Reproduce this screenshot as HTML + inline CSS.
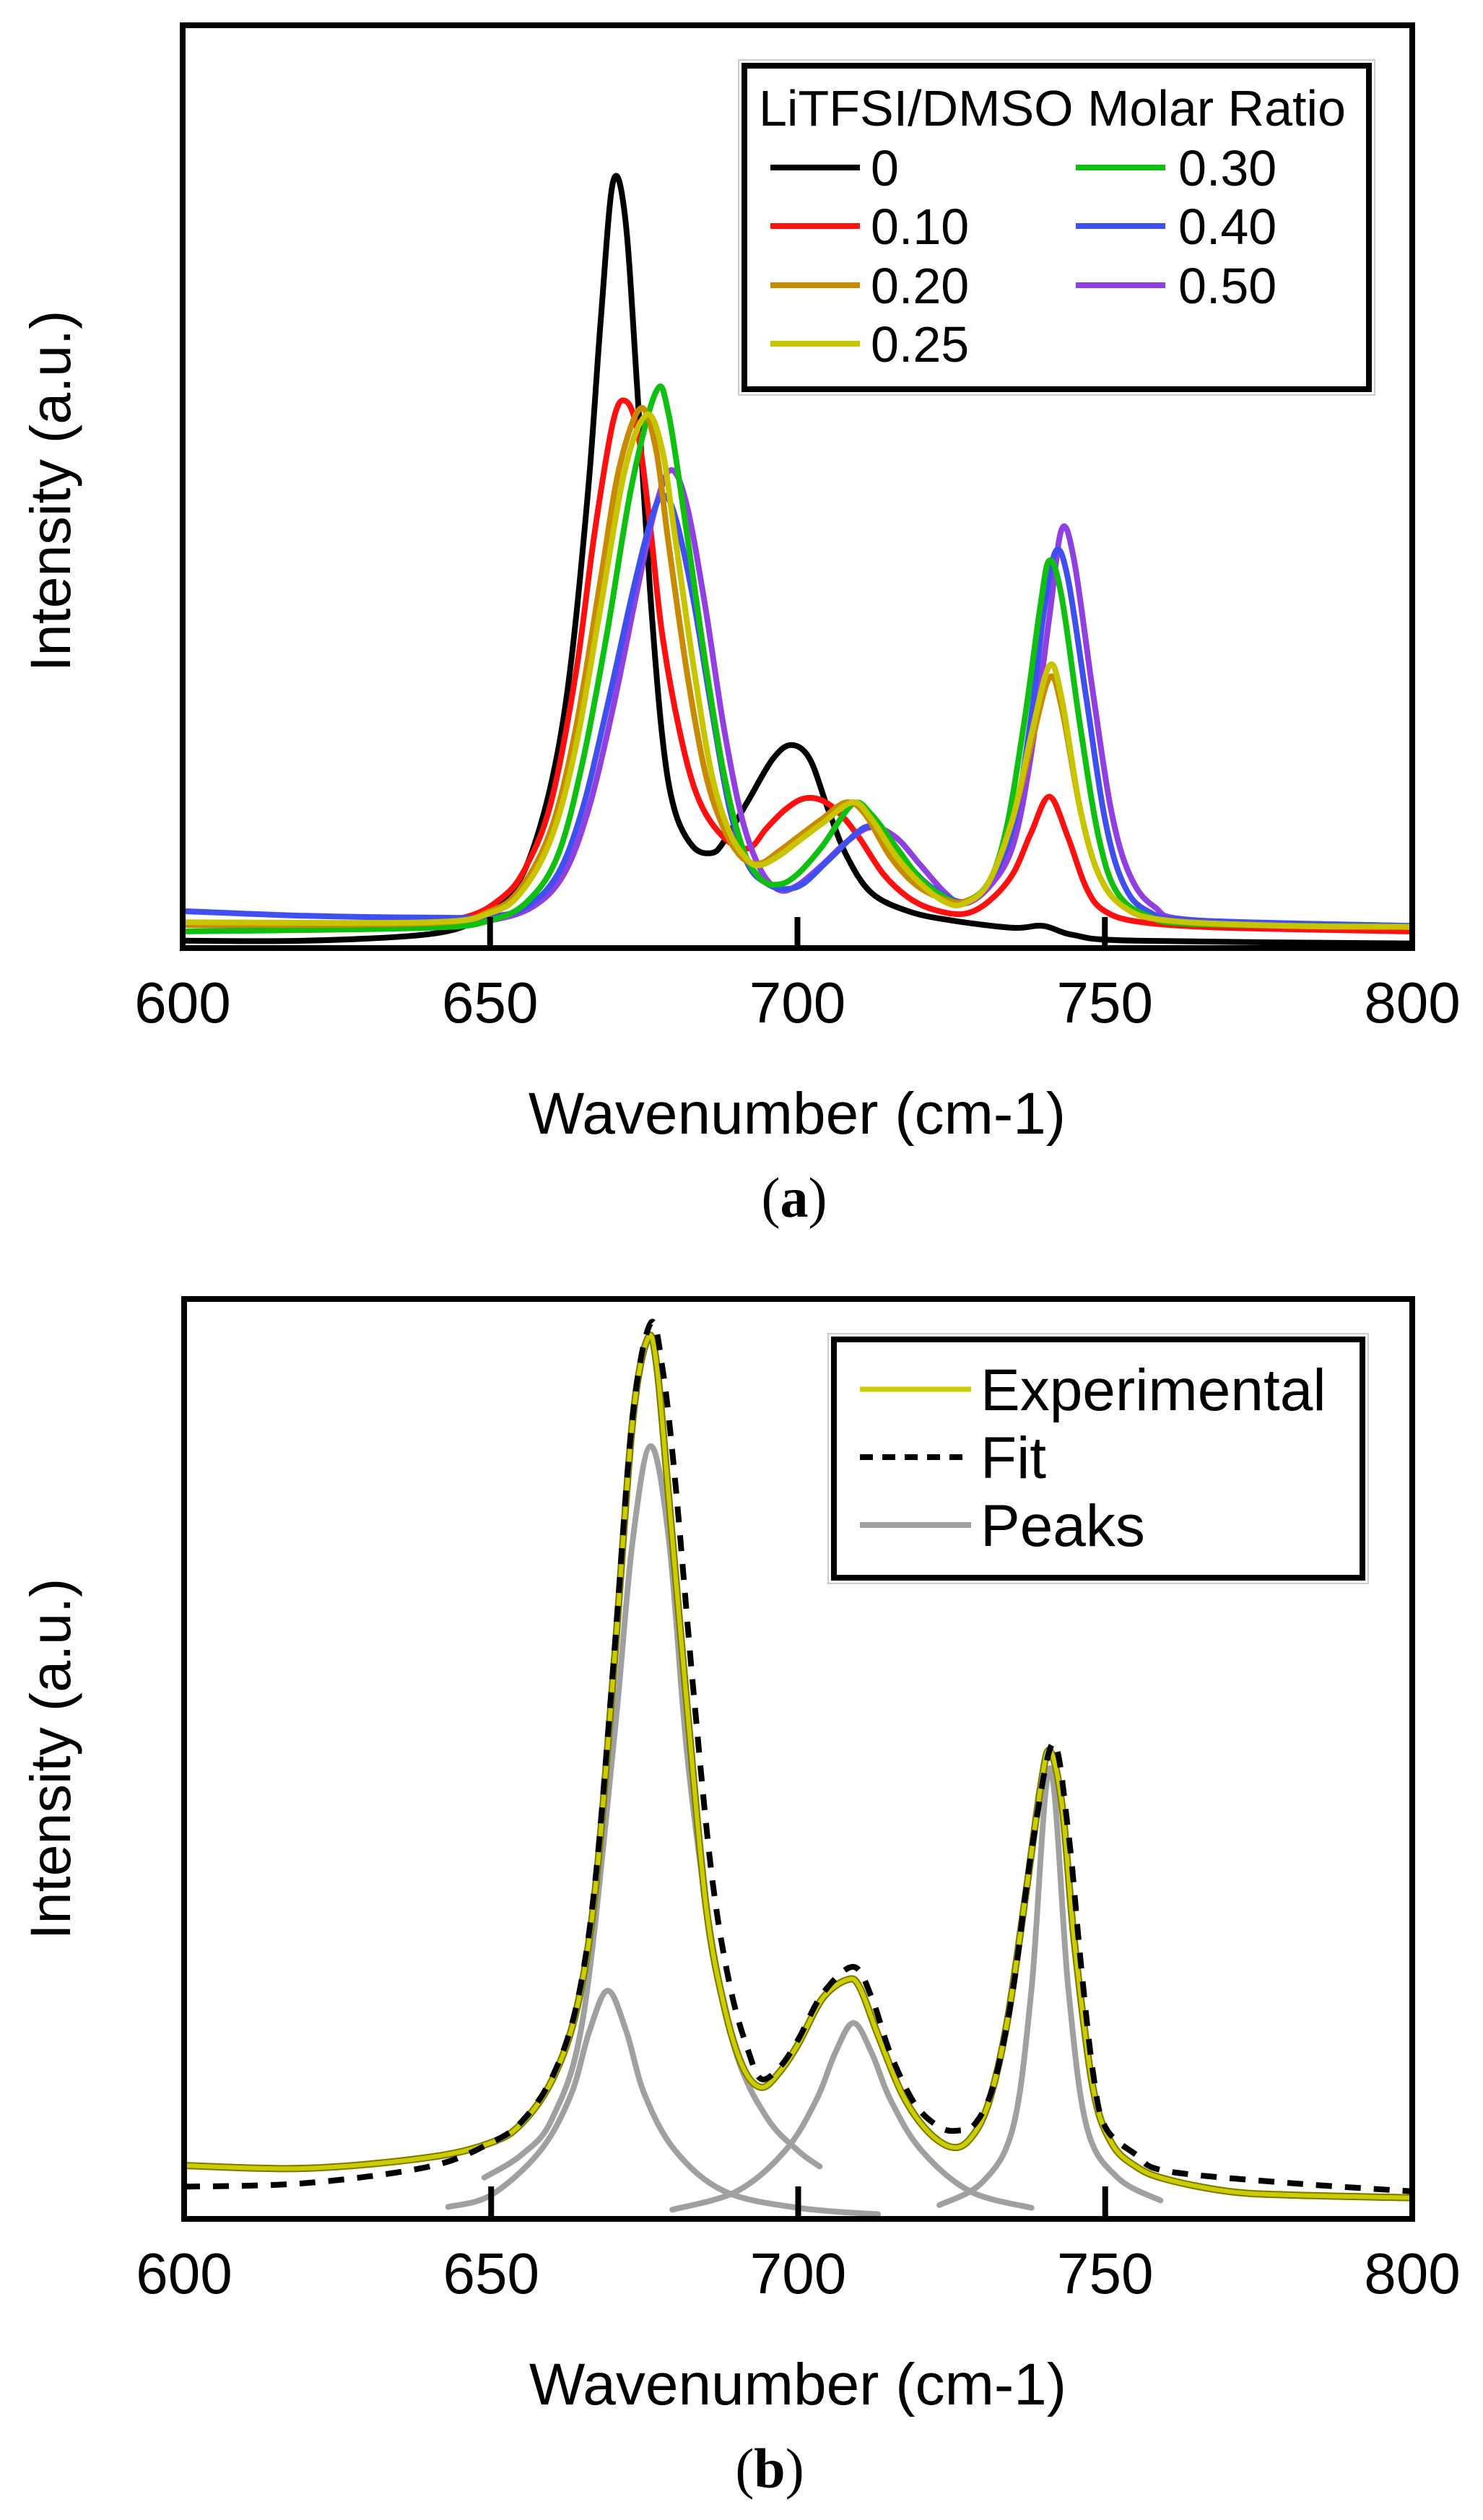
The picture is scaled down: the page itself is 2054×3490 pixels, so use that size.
<!DOCTYPE html>
<html><head><meta charset="utf-8"><style>
html,body{margin:0;padding:0;background:#fff;}
svg{display:block;}
text{font-family:"Liberation Sans",Arial,sans-serif;fill:#000;}
</style></head><body>
<svg id="fig" width="2054" height="3490" viewBox="0 0 2054 3490" xmlns="http://www.w3.org/2000/svg">
<defs>
<clipPath id="clipA"><rect x="253" y="35" width="1703" height="1278"/></clipPath>
<clipPath id="clipB"><rect x="255" y="1799" width="1701" height="1274"/></clipPath>
</defs>
<g id="panelA"></g>
<g id="panelB"></g>
</svg>
<script>
// ---------- Panel (a) data: wavenumber / relative intensity (% of plot height) ----------
const seriesNamesA = ["0","0.10","0.20","0.25","0.30","0.40","0.50"];
const seriesColorsA = ["#000000","#ff1010","#c88a00","#c8c400","#10c010","#4050f0","#9040e0"];
const s0_x = [600,620,640,648,652,656,660,663,666,668,670,672,674,676,678,680,683,686,688,692,696,699,702,705,708,712,718,725,735,740,745,755,800];
const s0_y = [0.8,0.8,1.5,3,5,9,18,30,50,68,83,79,60,39,23,15,11,10.3,11.5,16,20.5,22,20.5,15,10,6,4,3,2.2,2.4,1.4,0.8,0.5];
const s10_x = [600,630,645,652,656,660,664,667,670,672,674,676,678,681,684,688,692,695,698,701,704,707,710,714,718,722,727,731,735,738,741,744,747,750,756,770,800];
const s10_y = [2.5,2.5,3.2,5.5,9,16,30,45,57,59.3,56,46,34,23,16,12,10.8,13,15,16.2,16,14.5,12,8,5.5,4.2,3.7,5,8,12.5,16.4,12,6.5,4,2.8,2.2,1.8];
const s20_x = [600,640,650,655,660,664,668,671,674.5,677,679,682,685,688,691,694,697,700,704,708,711,715,719,723,727,731,735,738,741,743,746,749,753,760,780,800];
const s20_y = [2.5,2.7,4,6.5,13,24,40,52,58.5,54,44,30,19,13,9.8,9.2,10.5,12,14,15.8,14.5,10,7,5.5,5,7,14,22,29.3,26,15,8,4.5,3,2.4,2.3];
const s25_x = [600,640,650,655,660,664,668,672,675.5,678,680,683,686,689,692,694,697,700,704,709,712,716,720,724,727,731,735,738,741,743,746,749,753,760,780,800];
const s25_y = [2.8,2.8,3.8,6,12,22,37,52,57.8,54,45,31,19,12.5,9.5,9,10,11.5,13.5,15.8,14,10,7,5,4.8,7,14,23,30.6,27,15,8,4.5,3,2.4,2.3];
const s30_x = [600,640,650,656,661,665,669,673,677,679,682,685,688,691,694,697,700,704,709,712,716,720,724,727,731,734,737,739.5,741,743,746,749,752,757,765,800];
const s30_y = [1.8,2.2,3,5,10,20,34,50,60.3,58,45,31,19,11,7.5,6.9,8,11,15.6,14.5,11,7.5,5.5,5,7,13,25,37,42,38,24,12,6,3.5,2.6,2.3];
const s40_x = [600,620,640,650,656,661,665,669,673,676,678,680,683,686,689,692,695,698,701,705,711,714,718,722,727,731,735,738,740,742,744,747,750,753,757,765,800];
const s40_y = [4,3.5,3.3,3.4,4.5,8,15,26,38,46,49,47,38,26,15,9,7,6.4,7,9.5,13.1,12,9,6.5,5,7,13,25,36,43,40,27,14,7,4,3,2.4];
const s50_x = [600,640,650,657,662,666,670,674,677,679.5,682,685,688,691,694,697,700,704,708,712,716,720,724,727,731,735,738,741,743,745,748,751,754,758,765,800];
const s50_y = [2.5,2.5,3,4.5,8,15,26,39,48,51.8,48,37,24,14,8.5,6.3,6.8,9,11.5,13.1,12,9,6,4.8,6.5,11,21,36,45.4,42,28,15,8,4.5,3,2.4];
const seriesXA = [s0_x,s10_x,s20_x,s25_x,s30_x,s40_x,s50_x];
const seriesYA = [s0_y,s10_y,s20_y,s25_y,s30_y,s40_y,s50_y];
// ---------- Panel (b) data ----------
const exp_x = [600,620,640,650,655,660,664,667,670,673,675.5,677,679,682,685,688,691,694,697,700,704,708,710,713,717,721,725,728,731,734,737,739.5,741,743,745,748,751,755,760,770,780,800];
const exp_y = [5.8,5.5,6.7,8.3,10.4,15.2,23,36,60,86.5,95.7,92.6,77.8,55,34,23,16.5,14.3,16,19,24,26,25.2,20,13.5,9.6,7.8,8.7,12.6,21.3,35,47,50.9,44.8,30,14.3,8.3,5.7,4.3,3,2.6,2.3];
const fit_x = [600,620,640,650,655,660,664,667,670,673,676,678,680,683,686,689,692,694,697,700,704,709,712,715,719,723,726,729,732,735,738,741.5,744,746,748,750,755,760,780,800];
const fit_y = [3.5,3.9,5.7,8.3,10.6,15.5,23.5,37,61,87,97.4,92,80,57,37,25,18,15.2,16.5,19.5,24.5,27.4,24,18,12.5,10,9.6,10.5,15,25,40,51.7,42,28,16,10,7,5.2,3.9,3];
const p1_x = [648.9,655,660,665,670,673,676,679,682,686,690,695,700,703.5];
const p1_y = [4.5,7,11,22,52,73.5,84,73.5,50,30,17.8,10.9,7.4,5.7];
const p2_x = [643,650,658,663,666,669,672,675,680,688,700,713];
const p2_y = [1.3,2.6,7.4,13.5,20.4,24.8,20.4,13.5,7.4,3,1.2,0.5];
const p3_x = [679.5,690,698,703,706,709,712,715,720,728,738];
const p3_y = [1.0,3,7.5,13,18,21.3,18,13,7.5,3,1.2];
const p4_x = [723,730,735,738,741,744,747,752,759];
const p4_y = [1.5,4,10,25,49,25,10,4.5,2];
const tickLabels = ["600","650","700","750","800"];
const tickValues = [600,650,700,750,800];

const NS = "http://www.w3.org/2000/svg";
function mk(tag, attrs, parent){ const e=document.createElementNS(NS,tag); for(const k in attrs) e.setAttribute(k,attrs[k]); if(parent) parent.appendChild(e); return e; }

function makeAxes(x0,x1,yTop,yBot){
  return {
    sx: v => x0 + (v-600)/200*(x1-x0),
    sy: v => yBot - v/100*(yBot-yTop)
  };
}
function smoothPath(pts){
  let d = "M"+pts[0][0].toFixed(1)+","+pts[0][1].toFixed(1);
  for(let i=0;i<pts.length-1;i++){
    const p0=pts[Math.max(0,i-1)], p1=pts[i], p2=pts[i+1], p3=pts[Math.min(pts.length-1,i+2)];
    const c1x=p1[0]+(p2[0]-p0[0])/6, c1y=p1[1]+(p2[1]-p0[1])/6;
    const c2x=p2[0]-(p3[0]-p1[0])/6, c2y=p2[1]-(p3[1]-p1[1])/6;
    d += " C"+c1x.toFixed(1)+","+c1y.toFixed(1)+" "+c2x.toFixed(1)+","+c2y.toFixed(1)+" "+p2[0].toFixed(1)+","+p2[1].toFixed(1);
  }
  return d;
}
function drawSeries(g, ax, xs, ys, style){
  const pts = xs.map((x,i)=>[ax.sx(x), ax.sy(ys[i])]);
  return mk("path", Object.assign({d:smoothPath(pts), fill:"none", "stroke-linejoin":"round", "stroke-linecap":"round"}, style), g);
}
function drawFrame(g, ax, x0,x1,yTop,yBot, tickLen, labelY){
  tickValues.forEach((v,i)=>{
    if(i>0 && i<tickValues.length-1){
      const t = mk("line",{x1:ax.sx(v),x2:ax.sx(v),y1:yBot,y2:yBot-tickLen,stroke:"#000","stroke-width":8},g);
      
      
    }
    const tl = mk("text",{x:ax.sx(v),y:labelY,"text-anchor":"middle","font-size":80},g);
    tl.textContent = tickLabels[i];
    
    
  });
  const r = mk("rect",{x:x0,y:yTop,width:x1-x0,height:yBot-yTop,fill:"none",stroke:"#000","stroke-width":8},g);
  
  
}

// ---------- Panel A ----------
(function(){
  const g = document.getElementById("panelA");
  const x0=253,x1=1956,yT=35,yB=1313;
  const ax = makeAxes(x0,x1,yT,yB);
  const cg = mk("g",{"clip-path":"url(#clipA)"},g);
  
  
  const order=[0,1,6,5,4,2,3];
  order.forEach(i=>{
    const p = drawSeries(cg, ax, seriesXA[i], seriesYA[i], {stroke:seriesColorsA[i],"stroke-width":8});
    
    
  });
  drawFrame(g, ax, x0,x1,yT,yB, 43, 1416);
  const xl = mk("text",{x:1104,y:1570,"text-anchor":"middle","font-size":82},g);
  xl.textContent="Wavenumber (cm-1)";
  
  
  const yl = mk("text",{x:0,y:0,"text-anchor":"middle","font-size":79,transform:"translate(97,680) rotate(-90)"},g);
  yl.textContent="Intensity (a.u.)";
  
  
  const cap = mk("text",{x:1100,y:1685,"text-anchor":"middle","font-size":78,style:"font-family:'Liberation Serif',serif"},g);
  cap.innerHTML='(<tspan font-weight="bold">a</tspan>)';
  
  
  const lg = mk("g",{},g);
  
  
  mk("rect",{x:1023,y:83,width:881,height:464,fill:"#fff",stroke:"#ccc","stroke-width":2},lg);
  mk("rect",{x:1031,y:91,width:865,height:448,fill:"#fff",stroke:"#000","stroke-width":8},lg);
  const lt = mk("text",{x:1051,y:174,"font-size":70},lg);
  lt.textContent="LiTFSI/DMSO Molar Ratio";
  
  
  const rows=[232,313,395,476];
  seriesNamesA.forEach((n,i)=>{
    const col = i<4?0:1, row = i<4?i:i-4;
    const lx = col===0?1067:1490, tx = col===0?1206:1632;
    const e = mk("g",{},lg);
    
    
    mk("line",{x1:lx,x2:lx+124,y1:rows[row],y2:rows[row],stroke:seriesColorsA[i],"stroke-width":8},e);
    const t = mk("text",{x:tx,y:rows[row]+25,"font-size":70},e);
    t.textContent=n;
  });
})();

// ---------- Panel B ----------
(function(){
  const g = document.getElementById("panelB");
  const x0=255,x1=1956,yT=1799,yB=3073;
  const ax = makeAxes(x0,x1,yT,yB);
  const cg = mk("g",{"clip-path":"url(#clipB)"},g);
  
  
  [[p1_x,p1_y,"peak-1"],[p2_x,p2_y,"peak-2"],[p3_x,p3_y,"peak-3"],[p4_x,p4_y,"peak-4"]].forEach(a=>{
    const p = drawSeries(cg, ax, a[0], a[1], {stroke:"#a0a0a0","stroke-width":8});
    
    
  });
  const pe = drawSeries(cg, ax, exp_x, exp_y, {stroke:"#7a7a00","stroke-width":10});
  
  
  const pe2 = drawSeries(cg, ax, exp_x, exp_y, {stroke:"#cccc00","stroke-width":6});
  
  
  const pf = drawSeries(cg, ax, fit_x, fit_y, {stroke:"#000","stroke-width":8,"stroke-dasharray":"22 18","stroke-linecap":"butt"});
  
  
  drawFrame(g, ax, x0,x1,yT,yB, 45, 3176);
  const xl = mk("text",{x:1105,y:3330,"text-anchor":"middle","font-size":82},g);
  xl.textContent="Wavenumber (cm-1)";
  
  
  const yl = mk("text",{x:0,y:0,"text-anchor":"middle","font-size":79,transform:"translate(97,2436) rotate(-90)"},g);
  yl.textContent="Intensity (a.u.)";
  
  
  const cap = mk("text",{x:1066,y:3445,"text-anchor":"middle","font-size":78,style:"font-family:'Liberation Serif',serif"},g);
  cap.innerHTML='(<tspan font-weight="bold">b</tspan>)';
  
  
  const lg = mk("g",{},g);
  
  
  mk("rect",{x:1147,y:1847,width:748,height:346,fill:"#fff",stroke:"#ccc","stroke-width":2},lg);
  mk("rect",{x:1155,y:1855,width:732,height:330,fill:"#fff",stroke:"#000","stroke-width":8},lg);
  const items=[["Experimental",1924,{stroke:"#cccc00","stroke-width":7}],["Fit",2018,{stroke:"#000","stroke-width":8,"stroke-dasharray":"18 13"}],["Peaks",2112,{stroke:"#a0a0a0","stroke-width":8}]];
  items.forEach(it=>{
    const e = mk("g",{},lg);
    
    
    mk("line",Object.assign({x1:1191,x2:1345,y1:it[1],y2:it[1]},it[2]),e);
    const t = mk("text",{x:1358,y:it[1]+29,"font-size":82},e);
    t.textContent=it[0];
  });
})();
</script>
</body></html>
